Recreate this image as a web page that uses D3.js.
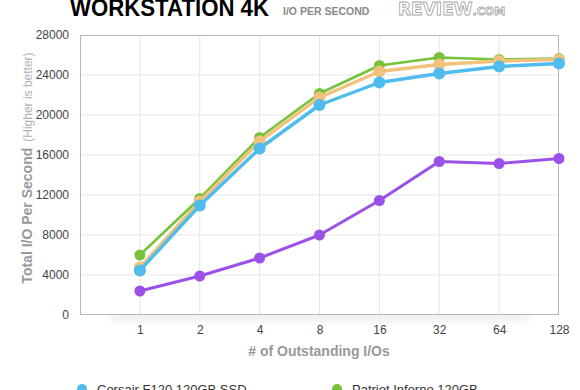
<!DOCTYPE html>
<html>
<head>
<meta charset="utf-8">
<script src="https://cdn.jsdelivr.net/npm/d3@7"></script>
<style>
  body { margin: 0; background: #fff; }
  svg { display: block; font-family: "Liberation Sans", Arial, sans-serif; }
</style>
</head>
<body>
<svg id="chart" width="580" height="390"></svg>
<script>
// outstanding I/Os (queue depth)
var depths = [1, 2, 4, 8, 16, 32, 64, 128];
var yTicks = [0, 4000, 8000, 12000, 16000, 20000, 24000, 28000];

var greenVals  = [6000, 11650, 17750, 22150, 24950, 25750, 25550, 25650];
var orangeVals = [4750, 11350, 17350, 21750, 24350, 25050, 25400, 25550];
var blueVals   = [4450, 10950, 16650, 21000, 23250, 24150, 24850, 25150];
var purpleVals = [2400, 3900, 5700, 8000, 11450, 15350, 15150, 15650];

var series = [
	{color: "#76c23b", values: greenVals, w: 2.6, r: 5.5},
	{color: "#f0c27c", values: orangeVals, w: 3.4, r: 6},
	{color: "#4fbcee", values: blueVals, w: 3.4, r: 6},
	{color: "#9b50e8", values: purpleVals, w: 3, r: 5.5}
];
var legendItems = [
	{name: "Corsair F120 120GB SSD", color: "#4fbcee"},
	{name: "Patriot Inferno 120GB", color: "#76c23b"}
];

var svg = d3.select("#chart");
var pL = 80, pR = 559, pT = 35, pB = 315;

var x = d3.scaleLog().base(2).domain([0.5, 128]).range([pL, pR]);
var y = d3.scaleLinear().domain([0, 28000]).range([pB, pT]);

// soft shadow under the plot
var defs = svg.append("defs");
defs.append("filter").attr("id", "blur")
	.attr("x", "-20%").attr("y", "-200%").attr("width", "140%").attr("height", "500%")
	.append("feGaussianBlur").attr("stdDeviation", 4);
svg.append("rect")
	.attr("x", pL + 30).attr("y", pB - 4)
	.attr("width", pR - pL - 60).attr("height", 10)
	.attr("fill", "#000").attr("opacity", 0.07)
	.attr("filter", "url(#blur)");

svg.append("rect")
	.attr("x", pL).attr("y", pT)
	.attr("width", pR - pL).attr("height", pB - pT)
	.attr("fill", "#fff");

// grid
svg.append("g").selectAll("line")
	.data(yTicks.slice(1, -1))
	.enter().append("line")
	.attr("x1", pL).attr("x2", pR)
	.attr("y1", d => y(d)).attr("y2", d => y(d))
	.attr("stroke", "#e5e5e5");
svg.append("g").selectAll("line")
	.data(depths.slice(0, -1))
	.enter().append("line")
	.attr("x1", d => x(d)).attr("x2", d => x(d))
	.attr("y1", pT).attr("y2", pB)
	.attr("stroke", "#e5e5e5");

svg.append("rect")
	.attr("x", pL + 0.5).attr("y", pT + 0.5)
	.attr("width", pR - pL - 1).attr("height", pB - pT - 1)
	.attr("fill", "none").attr("stroke", "#b8b8b8");

// axes labels
var yAxis = d3.axisLeft(y).tickValues(yTicks).tickFormat(d3.format("d")).tickSize(0).tickPadding(11);
svg.append("g").attr("transform", "translate(" + pL + ",0)")
	.call(yAxis)
	.call(g => g.select(".domain").remove())
	.selectAll("text")
	.attr("font-size", 12).attr("fill", "#444")
	.attr("font-family", "Liberation Sans, Arial, sans-serif");

var xAxis = d3.axisBottom(x).tickValues(depths).tickFormat(d3.format("d")).tickSize(0).tickPadding(10);
svg.append("g").attr("transform", "translate(0," + pB + ")")
	.call(xAxis)
	.call(g => g.select(".domain").remove())
	.selectAll("text")
	.attr("font-size", 12).attr("fill", "#444")
	.attr("font-family", "Liberation Sans, Arial, sans-serif");

svg.append("text")
	.attr("x", 319).attr("y", 356)
	.attr("text-anchor", "middle")
	.attr("font-size", 14).attr("font-weight", "bold").attr("fill", "#999")
	.text("# of Outstanding I/Os");

var yt = svg.append("text")
	.attr("transform", "translate(32,168) rotate(-90)")
	.attr("text-anchor", "middle")
	.attr("fill", "#999");
yt.append("tspan").attr("font-size", 14).attr("font-weight", "bold").text("Total I/O Per Second");
yt.append("tspan").attr("font-size", 12).attr("fill", "#b0b0b0").attr("dx", 6).text("(Higher is better)");

// lines
var line = d3.line()
	.x((d, i) => x(depths[i]))
	.y(d => y(d));

var gs = svg.append("g").selectAll("g")
	.data(series)
	.enter().append("g");
gs.append("path")
	.attr("d", d => line(d.values))
	.attr("fill", "none")
	.attr("stroke", d => d.color)
	.attr("stroke-width", d => d.w)
	.attr("stroke-linejoin", "round");
gs.selectAll("circle")
	.data(d => d.values.map(v => ({v: v, s: d})))
	.enter().append("circle")
	.attr("cx", (d, i) => x(depths[i]))
	.attr("cy", d => y(d.v))
	.attr("r", d => d.s.r)
	.attr("fill", d => d.s.color);

// title
svg.append("text")
	.attr("x", 70).attr("y", 16)
	.attr("font-size", 24).attr("font-weight", "bold").attr("fill", "#000")
	.attr("textLength", 199).attr("lengthAdjust", "spacingAndGlyphs")
	.text("WORKSTATION 4K");
svg.append("text")
	.attr("x", 283).attr("y", 15)
	.attr("font-size", 10.5).attr("font-weight", "bold").attr("fill", "#888")
	.text("I/O PER SECOND");
var logo = svg.append("text")
	.attr("x", 398).attr("y", 15)
	.attr("font-weight", "bold").attr("fill", "#fff")
	.attr("stroke", "#aaa").attr("stroke-width", 0.9)
	.attr("font-family", "DejaVu Sans, sans-serif");
logo.append("tspan").attr("font-size", 17).text("REVIEW");
logo.append("tspan").attr("font-size", 11).text(".COM");

// legend
var lg = svg.append("g").selectAll("g")
	.data(legendItems)
	.enter().append("g")
	.attr("transform", (d, i) => "translate(" + (82 + i * 255) + ",389)");
lg.append("circle").attr("r", 5).attr("fill", d => d.color);
lg.append("text")
	.attr("x", 15).attr("y", 5)
	.attr("font-size", 13).attr("fill", "#333")
	.text(d => d.name);
</script>
</body>
</html>
